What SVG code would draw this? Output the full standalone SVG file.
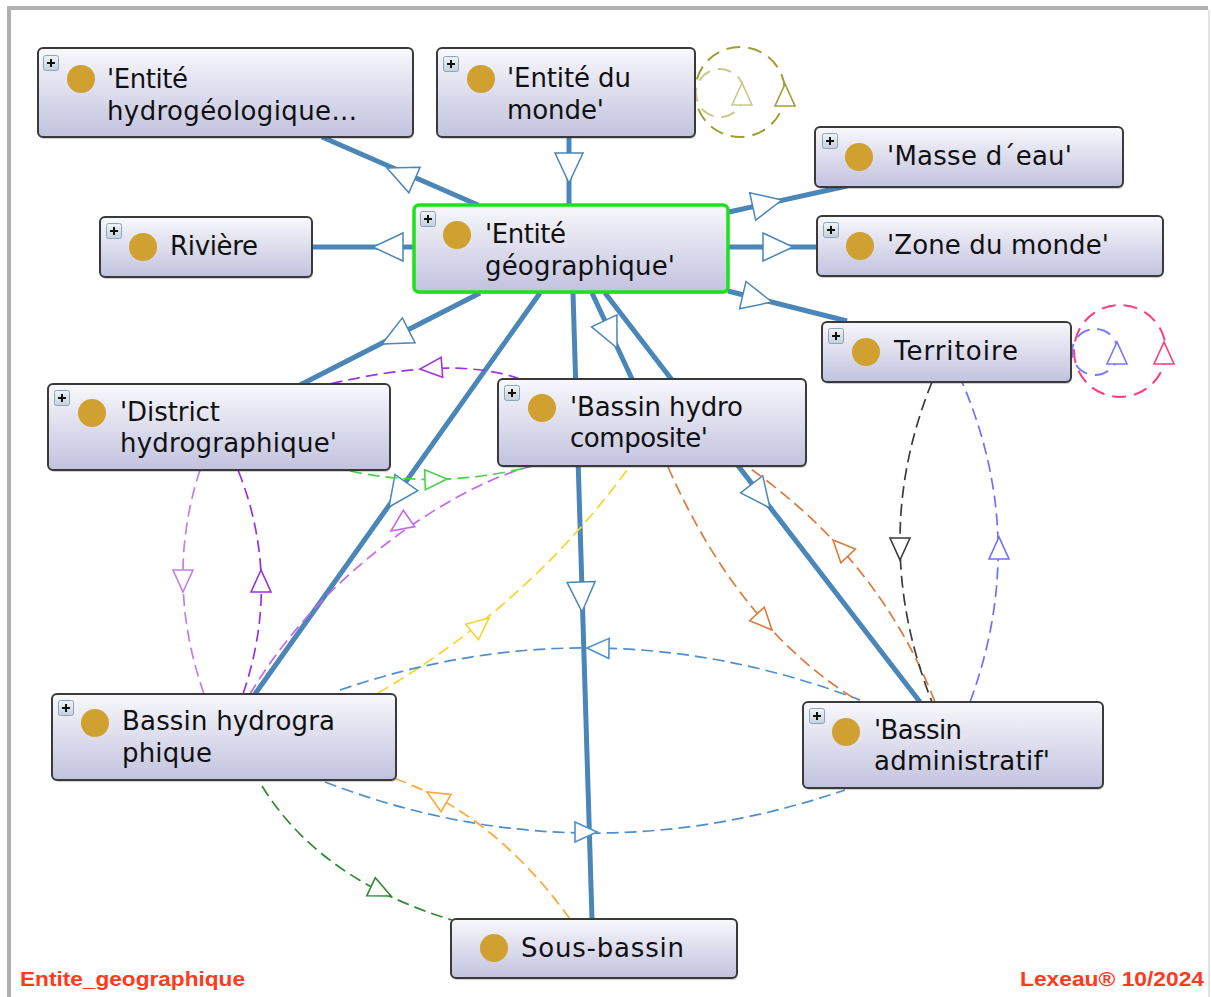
<svg xmlns="http://www.w3.org/2000/svg" xmlns:xlink="http://www.w3.org/1999/xlink" width="1211" height="997" viewBox="0 0 1211 997">
<defs>
<linearGradient id="g" x1="0" y1="0" x2="0" y2="1">
<stop offset="0" stop-color="#f8f8fc"/>
<stop offset="1" stop-color="#c2c2df"/>
</linearGradient>
<linearGradient id="pg" x1="0" y1="0" x2="0" y2="1">
<stop offset="0" stop-color="#f0f4f8"/>
<stop offset="1" stop-color="#c4d0dc"/>
</linearGradient>
<path id="aL" d="M0,0 L-30,-14 L-30,14 Z"/>
<path id="aS" d="M0,0 L-22,-10 L-22,10 Z"/>
<g id="plus">
<rect x="0.5" y="0.5" width="15" height="15" rx="2" fill="url(#pg)" stroke="#8ea4ba" stroke-width="1"/>
<path d="M4,8 H12 M8,4 V12" stroke="#111" stroke-width="2"/>
</g>
<style>
.nb{fill:url(#g);stroke:#3a3a3a;stroke-width:2}
.sh{fill:#000;opacity:0.18}
.sel{fill:url(#g);stroke:#1ee01e;stroke-width:3.5}
.dot{fill:#d0a030}
.tx{font-family:"DejaVu Sans","Liberation Sans",sans-serif;font-size:26px;fill:#111}
.s{fill:none;stroke:#4a86b8;stroke-width:5}
.sa{fill:#fff;stroke:#4a86b8;stroke-width:1.5}
.d{fill:none;stroke-width:1.7;stroke-dasharray:12 6}
.da{fill:#fff;stroke-width:1.6}
.loop{fill:none;stroke-width:2;stroke-dasharray:14 8}
.ft{font-family:"Liberation Sans",Arial,sans-serif;font-weight:bold;font-size:21px;fill:#ff3a1e}
</style>
</defs>
<rect x="0" y="0" width="1211" height="997" fill="#fff"/>
<path d="M9,997 V8 H1208" fill="none" stroke="#b0b0b0" stroke-width="4"/>
<path d="M1209,10 V997" fill="none" stroke="#e4e4e4" stroke-width="2"/>

<g id="connectors">
<!-- solid subclass edges -->
<path class="s" d="M322,137 L478,205"/>
<path class="s" d="M569,137 L569,205"/>
<path class="s" d="M312,247 L414,247"/>
<path class="s" d="M729,212 L847,186"/>
<path class="s" d="M729,247 L817,247"/>
<path class="s" d="M728,291 L847,321"/>
<path class="s" d="M480,293 L300,385"/>
<path class="s" d="M540,293 L255,694"/>
<path class="s" d="M573,293 L592,919"/>
<path class="s" d="M592,293 L632,379"/>
<path class="s" d="M605,293 L920,702"/>
<use href="#aL" class="sa" transform="translate(387,168) rotate(203.6)"/>
<use href="#aL" class="sa" transform="translate(569,183) rotate(90)"/>
<use href="#aL" class="sa" transform="translate(373,247) rotate(180)"/>
<use href="#aL" class="sa" transform="translate(782,200) rotate(-12.4)"/>
<use href="#aL" class="sa" transform="translate(793,247)"/>
<use href="#aL" class="sa" transform="translate(772,302) rotate(13.2)"/>
<use href="#aL" class="sa" transform="translate(382,344) rotate(153)"/>
<use href="#aL" class="sa" transform="translate(389,507) rotate(125.5)"/>
<use href="#aL" class="sa" transform="translate(582,612) rotate(88.3)"/>
<use href="#aL" class="sa" transform="translate(617,348) rotate(64.8)"/>
<use href="#aL" class="sa" transform="translate(770,508) rotate(52.3)"/>

<!-- dashed property edges -->
<path class="d" stroke="#a035e4" d="M520,379 Q453,355 330,384"/>
<use href="#aS" class="da" stroke="#a035e4" transform="translate(420,369) rotate(175.6)"/>
<path class="d" stroke="#c468ec" d="M533,466 C470,480 330,560 250,694"/>
<use href="#aS" class="da" stroke="#c468ec" transform="translate(391,531) rotate(145)"/>
<path class="d" stroke="#c47ee8" d="M200,470 Q164,580 204,694"/>
<use href="#aS" class="da" stroke="#c47ee8" transform="translate(183,592) rotate(90)"/>
<path class="d" stroke="#9a2fe6" d="M243,694 Q282,580 238,470"/>
<use href="#aS" class="da" stroke="#9a2fe6" transform="translate(261,570) rotate(-90)"/>
<path class="d" stroke="#4cd04c" d="M350,471 Q440,490 533,466"/>
<use href="#aS" class="da" stroke="#4cd04c" transform="translate(447,479) rotate(-2)"/>
<path class="d" stroke="#f8d42a" d="M378,693 Q528,606 630,466"/>
<use href="#aS" class="da" stroke="#f8d42a" transform="translate(489,618) rotate(-39.6)"/>
<path class="d" stroke="#4f8fcc" d="M340,690 Q600,601 860,700"/>
<use href="#aS" class="da" stroke="#4f8fcc" transform="translate(587,648) rotate(181)"/>
<path class="d" stroke="#4f8fcc" d="M325,782 Q580,880 845,790"/>
<use href="#aS" class="da" stroke="#4f8fcc" transform="translate(597,832)"/>
<path class="d" stroke="#dc7a3c" d="M668,467 Q740,630 860,702"/>
<use href="#aS" class="da" stroke="#dc7a3c" transform="translate(772,630) rotate(47)"/>
<path class="d" stroke="#dc7a3c" d="M935,702 Q880,560 748,467"/>
<use href="#aS" class="da" stroke="#dc7a3c" transform="translate(833,540) rotate(226.6)"/>
<path class="d" stroke="#ffa733" d="M570,919 Q495,815 396,779"/>
<use href="#aS" class="da" stroke="#ffa733" transform="translate(427,792) rotate(210)"/>
<path class="d" stroke="#2e8b2e" d="M262,786 Q320,880 452,920"/>
<use href="#aS" class="da" stroke="#2e8b2e" transform="translate(391,896) rotate(25)"/>
<path class="d" stroke="#3c3c3c" d="M932,382 Q868,540 932,702"/>
<use href="#aS" class="da" stroke="#3c3c3c" transform="translate(900,560) rotate(90)"/>
<path class="d" stroke="#7070ff" d="M970,702 Q1030,540 962,382"/>
<use href="#aS" class="da" stroke="#7070ff" transform="translate(999,537) rotate(-90)"/>

<!-- self loops -->
<circle class="loop" stroke="#9e9e32" cx="740" cy="92" r="45"/>
<use href="#aS" class="da" stroke="#9e9e32" transform="translate(785,84) rotate(-90)"/>
<circle class="loop" stroke="#c9c98e" cx="720" cy="93" r="24"/>
<use href="#aS" class="da" stroke="#c9c98e" transform="translate(742,83) rotate(-90)"/>
<circle class="loop" stroke="#ff3c78" cx="1120" cy="351" r="46"/>
<use href="#aS" class="da" stroke="#ff3c78" transform="translate(1164,342) rotate(-90)"/>
<circle class="loop" stroke="#7878ff" cx="1095" cy="352" r="23"/>
<use href="#aS" class="da" stroke="#7878ff" transform="translate(1117,342) rotate(-90)"/>
</g>

<g id="n-hydrogeo">
<rect class="sh" x="39" y="50" width="375" height="89" rx="5"/>
<rect class="nb" x="38" y="48" width="375" height="89" rx="5"/>
<use href="#plus" transform="translate(43,55)"/>
<circle class="dot" cx="81" cy="79" r="14"/>
<text class="tx" x="107" y="88" textLength="81" lengthAdjust="spacing">'Entité</text>
<text class="tx" x="107" y="120" textLength="250" lengthAdjust="spacing">hydrogéologique...</text>
</g>

<g id="n-monde">
<rect class="sh" x="438" y="50" width="258" height="89" rx="5"/>
<rect class="nb" x="437" y="48" width="258" height="89" rx="5"/>
<use href="#plus" transform="translate(443,56)"/>
<circle class="dot" cx="481" cy="79" r="14"/>
<text class="tx" x="507" y="87" textLength="124" lengthAdjust="spacing">'Entité du</text>
<text class="tx" x="507" y="119" textLength="97" lengthAdjust="spacing">monde'</text>
</g>

<g id="n-masse">
<rect class="sh" x="816" y="129" width="308" height="60" rx="5"/>
<rect class="nb" x="815" y="127" width="308" height="60" rx="5"/>
<use href="#plus" transform="translate(822,133)"/>
<circle class="dot" cx="859" cy="157" r="14"/>
<text class="tx" x="887" y="165" textLength="185" lengthAdjust="spacing">'Masse d´eau'</text>
</g>

<g id="n-zone">
<rect class="sh" x="818" y="218" width="346" height="60" rx="5"/>
<rect class="nb" x="817" y="216" width="346" height="60" rx="5"/>
<use href="#plus" transform="translate(823,222)"/>
<circle class="dot" cx="860" cy="246" r="14"/>
<text class="tx" x="887" y="254" textLength="222" lengthAdjust="spacing">'Zone du monde'</text>
</g>

<g id="n-territoire">
<rect class="sh" x="823" y="324" width="249" height="60" rx="5"/>
<rect class="nb" x="822" y="322" width="249" height="60" rx="5"/>
<use href="#plus" transform="translate(828,328)"/>
<circle class="dot" cx="866" cy="352" r="14"/>
<text class="tx" x="894" y="360" textLength="124" lengthAdjust="spacing">Territoire</text>
</g>

<g id="n-riviere">
<rect class="sh" x="101" y="219" width="212" height="60" rx="5"/>
<rect class="nb" x="100" y="217" width="212" height="60" rx="5"/>
<use href="#plus" transform="translate(106,223)"/>
<circle class="dot" cx="143" cy="247" r="14"/>
<text class="tx" x="170" y="255" textLength="88" lengthAdjust="spacing">Rivière</text>
</g>

<g id="n-geo">
<rect class="sh" x="415" y="207" width="314" height="87" rx="5"/>
<rect class="sel" x="414" y="205" width="314" height="87" rx="5"/>
<use href="#plus" transform="translate(420,211)"/>
<circle class="dot" cx="457" cy="235" r="14"/>
<text class="tx" x="485" y="243" textLength="81" lengthAdjust="spacing">'Entité</text>
<text class="tx" x="485" y="275" textLength="190" lengthAdjust="spacing">géographique'</text>
</g>

<g id="n-district">
<rect class="sh" x="49" y="386" width="342" height="86" rx="5"/>
<rect class="nb" x="48" y="384" width="342" height="86" rx="5"/>
<use href="#plus" transform="translate(54,390)"/>
<circle class="dot" cx="92" cy="413" r="14"/>
<text class="tx" x="120" y="421" textLength="100" lengthAdjust="spacing">'District</text>
<text class="tx" x="120" y="452" textLength="217" lengthAdjust="spacing">hydrographique'</text>
</g>

<g id="n-composite">
<rect class="sh" x="499" y="381" width="308" height="87" rx="5"/>
<rect class="nb" x="498" y="379" width="308" height="87" rx="5"/>
<use href="#plus" transform="translate(504,385)"/>
<circle class="dot" cx="542" cy="408" r="14"/>
<text class="tx" x="570" y="416" textLength="173" lengthAdjust="spacing">'Bassin hydro</text>
<text class="tx" x="570" y="447" textLength="138" lengthAdjust="spacing">composite'</text>
</g>

<g id="n-bassin-hydrographique">
<rect class="sh" x="53" y="696" width="344" height="86" rx="5"/>
<rect class="nb" x="52" y="694" width="344" height="86" rx="5"/>
<use href="#plus" transform="translate(58,700)"/>
<circle class="dot" cx="95" cy="723" r="14"/>
<text class="tx" x="122" y="730" textLength="213" lengthAdjust="spacing">Bassin hydrogra</text>
<text class="tx" x="122" y="762" textLength="90" lengthAdjust="spacing">phique</text>
</g>

<g id="n-administratif">
<rect class="sh" x="804" y="704" width="300" height="86" rx="5"/>
<rect class="nb" x="803" y="702" width="300" height="86" rx="5"/>
<use href="#plus" transform="translate(809,708)"/>
<circle class="dot" cx="846" cy="732" r="14"/>
<text class="tx" x="874" y="739" textLength="88" lengthAdjust="spacing">'Bassin</text>
<text class="tx" x="874" y="770" textLength="176" lengthAdjust="spacing">administratif'</text>
</g>

<g id="n-sous-bassin">
<rect class="sh" x="452" y="921" width="286" height="59" rx="5"/>
<rect class="nb" x="451" y="919" width="286" height="59" rx="5"/>
<circle class="dot" cx="494" cy="948" r="14"/>
<text class="tx" x="521" y="957" textLength="163" lengthAdjust="spacing">Sous-bassin</text>
</g>

<text class="ft" x="20" y="986" textLength="225" lengthAdjust="spacingAndGlyphs">Entite_geographique</text>
<text class="ft" x="1020" y="986" textLength="184" lengthAdjust="spacingAndGlyphs">Lexeau® 10/2024</text>
</svg>
